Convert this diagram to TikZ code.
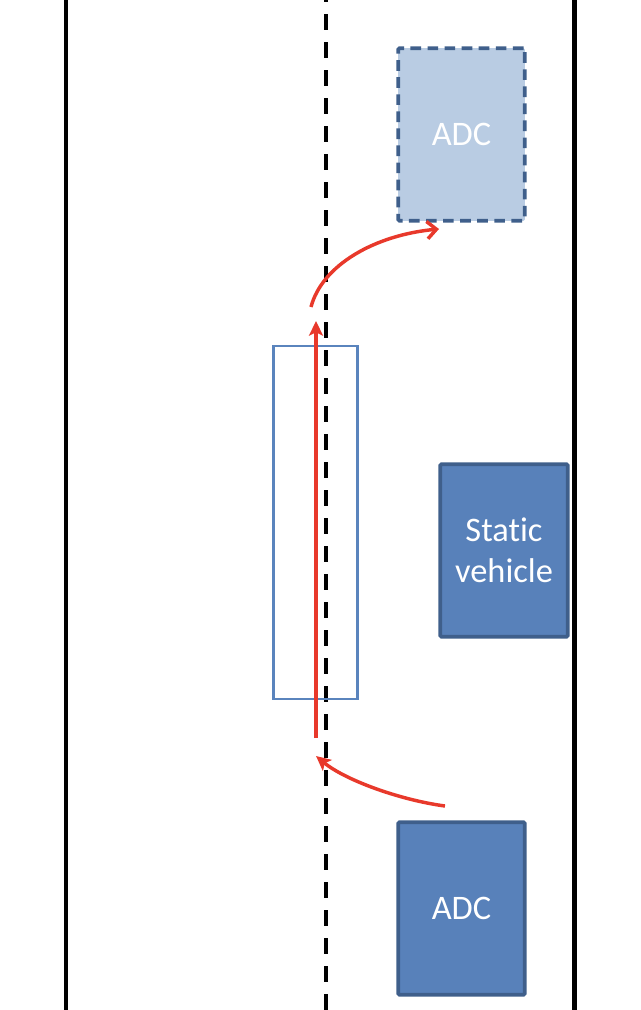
\documentclass[tikz,border=0pt]{standalone}
\usepackage{fontspec}
\setmainfont[Ligatures=NoCommon]{Carlito}
\usetikzlibrary{arrows.meta}
\definecolor{boxfill}{HTML}{5881BA}
\definecolor{boxdraw}{HTML}{3F5F8B}
\definecolor{ghostfill}{HTML}{B9CCE3}
\definecolor{pathred}{HTML}{E8392B}
\definecolor{laneblue}{HTML}{5A84BD}
\tikzset{
  carbox/.style={draw=boxdraw, fill=boxfill, line width=2.8pt, rounded corners=1pt,
    text=white, align=center, inner sep=0pt,
    font=\fontsize{25.8}{30.75}\selectfont},
  ghostbox/.style={carbox, fill=ghostfill, dash pattern=on 8pt off 4.8pt},
  lanebox/.style={draw=laneblue, line width=1.7pt, inner sep=0pt},
  roadedge/.style={line width=3.3pt, black},
  centerline/.style={line width=3pt, black, dash pattern=on 12pt off 9pt},
  redpath/.style={draw=pathred, line width=2.6pt},
  redtip/.style={-{Stealth[length=11pt,width=10.5pt,inset=2.5pt]}},
  barbtip/.style={-{Straight Barb[length=7pt,width=13pt]}}
}
\begin{document}
\begin{tikzpicture}[x=0.75pt,y=-0.75pt]
\useasboundingbox (0,0) rectangle (640,1010);
% road
\coordinate (LT) at (66,0);   \coordinate (LB) at (66,1010);
\coordinate (RT) at (574.5,0); \coordinate (RB) at (574.5,1010);
\coordinate (CT) at (326,-14); \coordinate (CB) at (326,1010);
\draw[roadedge] (LT) -- (LB);
\draw[roadedge] (RT) -- (RB);
\draw[centerline] (CT) -- (CB);
% lane-change box
\node[lanebox, minimum width=63pt, minimum height=265pt] (lane) at (315.5,522.5) {};
% vehicles
\node[ghostbox, minimum width=95pt, minimum height=129.5pt] (adcT) at (461.5,134.5) {ADC};
\node[carbox, minimum width=95.5pt, minimum height=129.5pt] (sv) at (504,550.5) {Static\\vehicle};
\node[carbox, minimum width=95pt, minimum height=129.5pt] (adcB) at (461.5,908.5) {ADC};
% path
\coordinate (p1s) at (445,806);
\coordinate (p1e) at (316,756);
\coordinate (p2s) at (316,738);
\coordinate (p2e) at (316,321);
\coordinate (p3s) at (311,307);
\coordinate (p3e) at (439,229);
\draw[redpath, redtip] (p1s) .. controls (400,800) and (345,780) .. (p1e);
\draw[redpath, redtip] (p2s) -- (p2e);
\draw[redpath, barbtip] (p3s) .. controls (322,265) and (375,235) .. (p3e);
\end{tikzpicture}
\end{document}
